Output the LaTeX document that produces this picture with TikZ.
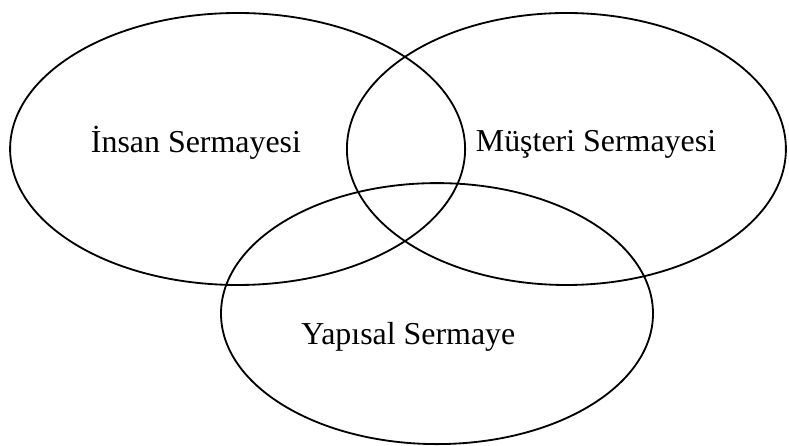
\documentclass[tikz,border=0pt]{standalone}
\usepackage{fontspec}
\setmainfont{Liberation Serif}
\usetikzlibrary{shapes.geometric}
\tikzset{
  capital/.style={draw=black, ellipse, line width=1.3pt, inner sep=0pt},
  caplabel/.style={anchor=base, inner sep=0pt, font=\fontsize{22.7}{27}\selectfont}
}

\begin{document}
\begin{tikzpicture}
  \useasboundingbox (0,0) rectangle (19.725,11.15);

  % ---- three overlapping capitals ----
  \node[capital, minimum width=11.375cm, minimum height=6.8cm] (insan) at (5.94,7.425) {};
  \node[capital, minimum width=10.975cm, minimum height=6.8cm] (musteri) at (14.16,7.425) {};
  \node[capital, minimum width=10.8cm, minimum height=6.525cm] (yapisal) at (10.925,3.31) {};

  % ---- labels ----
  \node[caplabel] (insanlbl) at (4.9,7.325) {İnsan Sermayesi};
  \node[caplabel] (musterilbl) at (14.9,7.35) {Müşteri Sermayesi};
  \node[caplabel] (yapisallbl) at (10.21,2.525) {Yapısal Sermaye};

\end{tikzpicture}
\end{document}
